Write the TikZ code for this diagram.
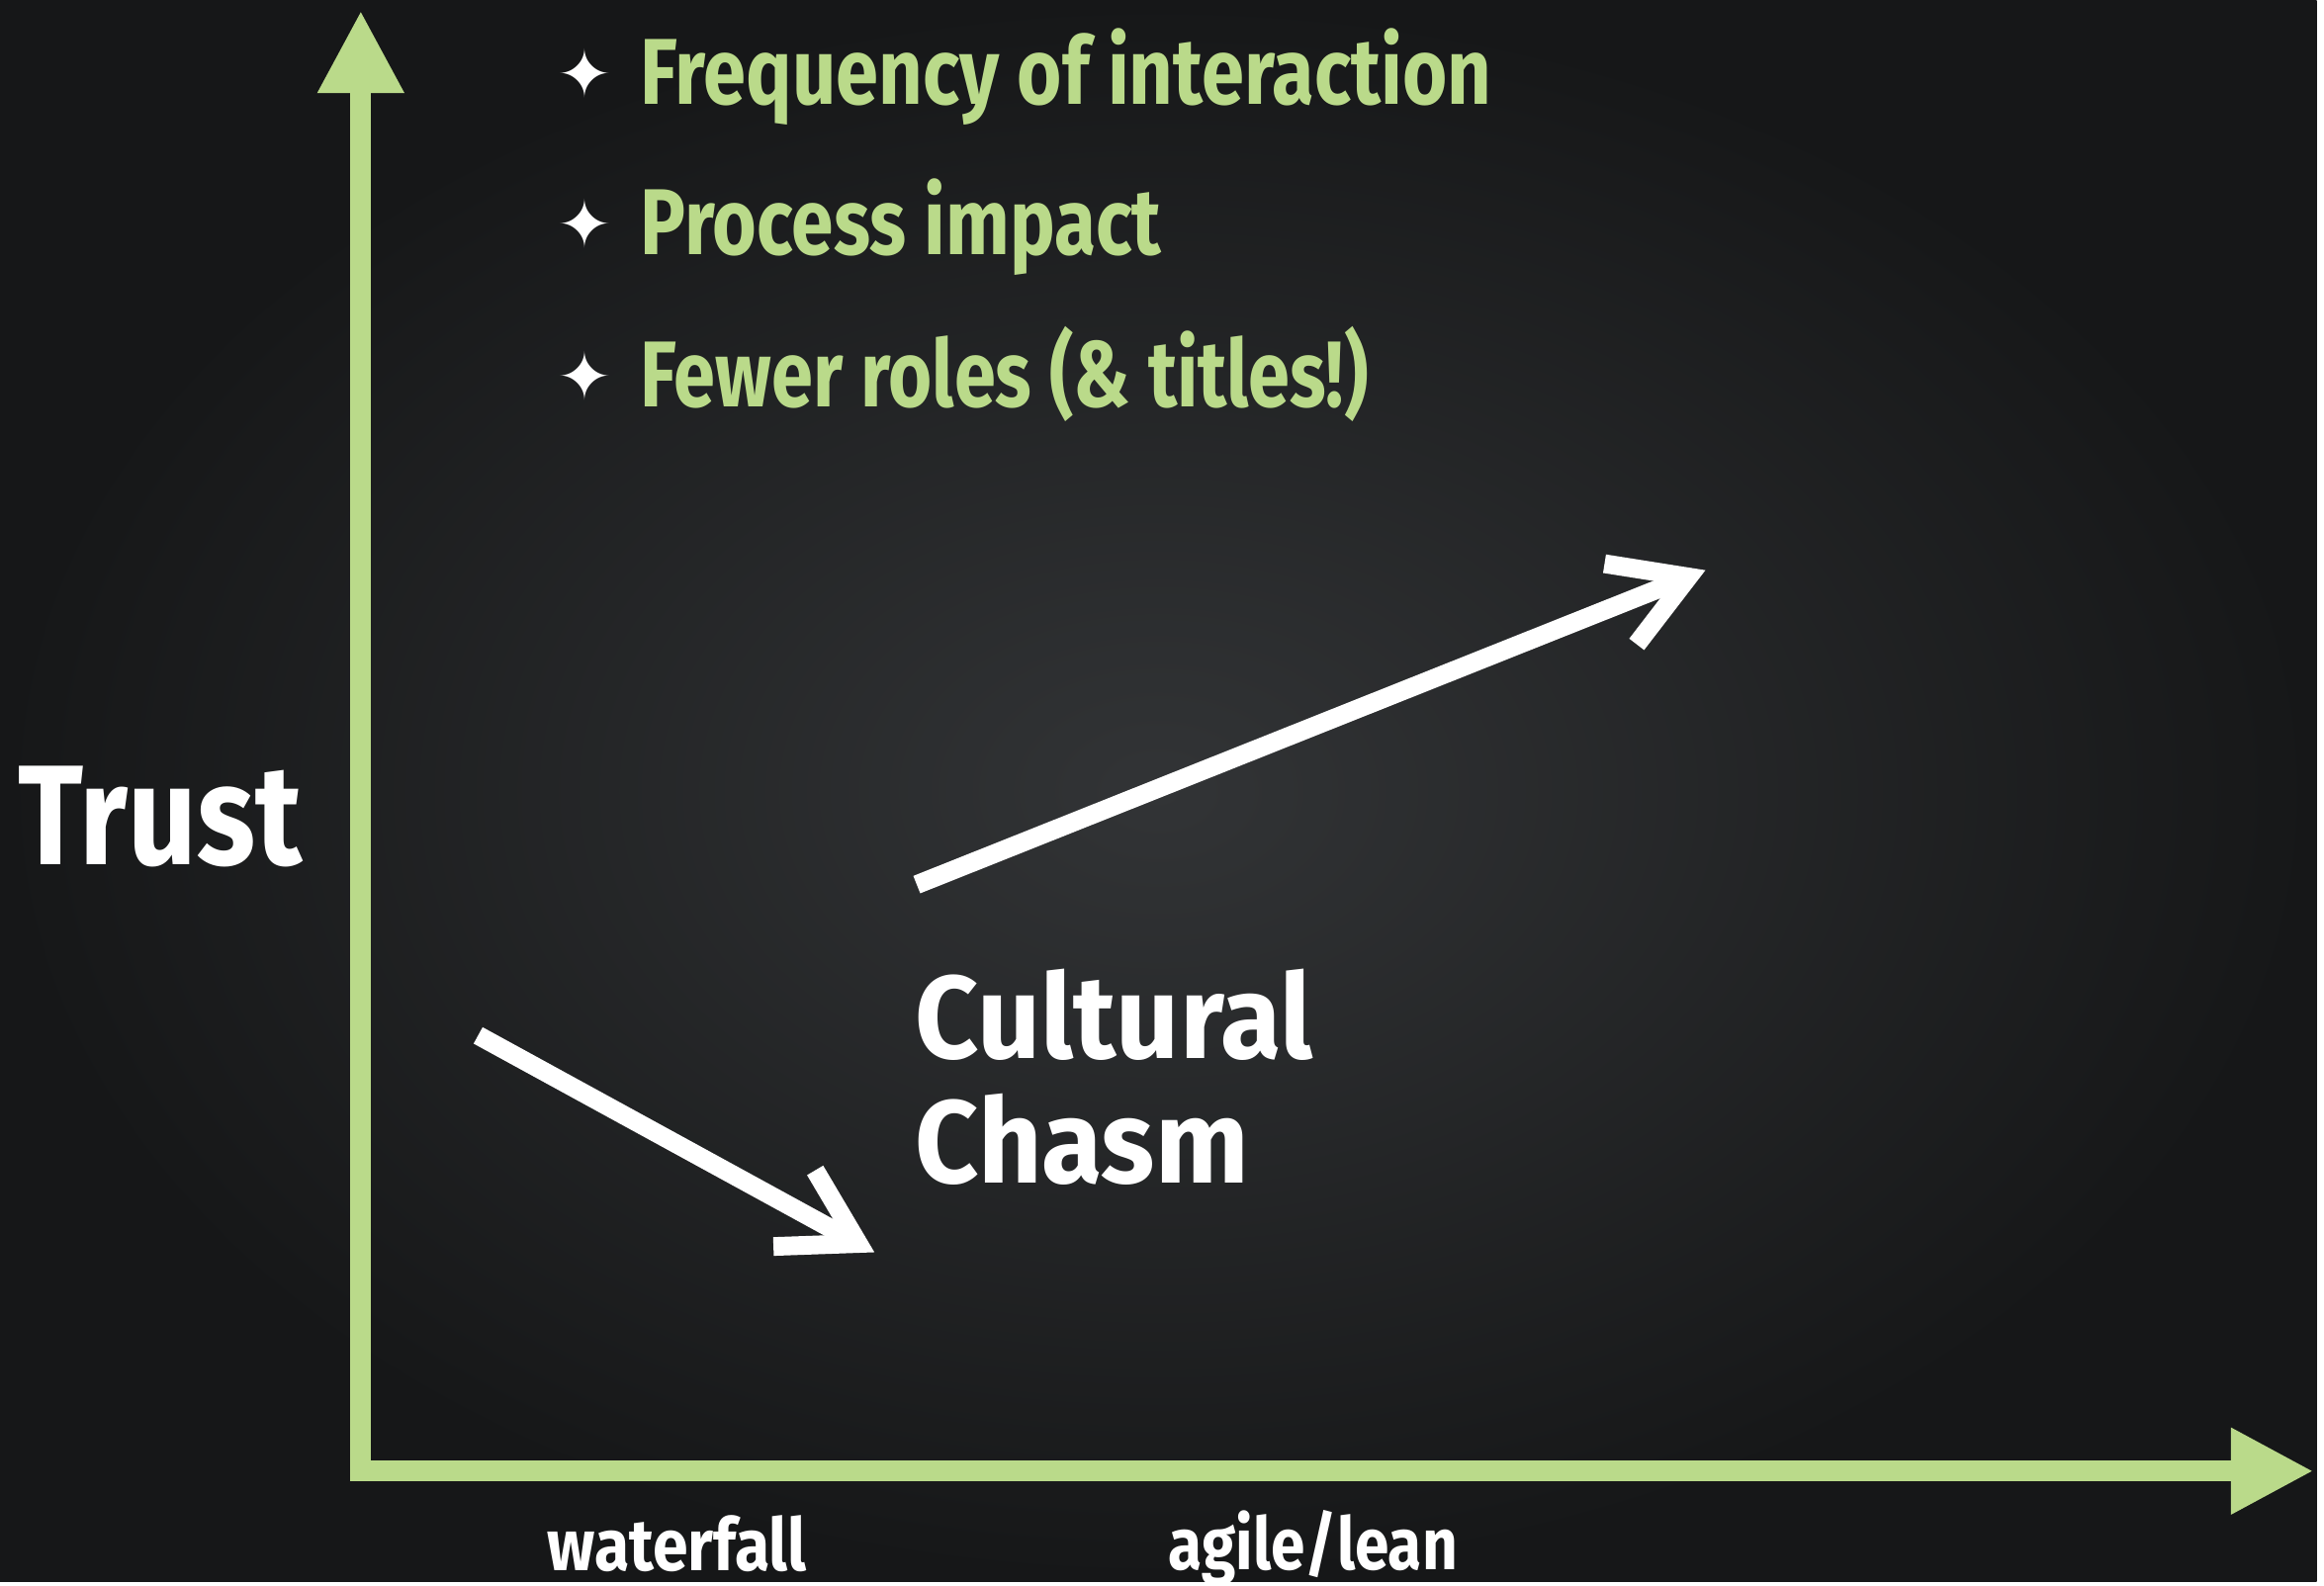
\documentclass[tikz,border=0pt]{standalone}
\usepackage{fontspec}
\setmainfont{Fira Sans}[FakeStretch=0.8]
\newfontfamily\starfont{DejaVu Sans}
\usetikzlibrary{positioning,arrows.meta}

\definecolor{chalkgreen}{RGB}{186,218,138}
\definecolor{boardlight}{RGB}{50,52,54}
\definecolor{boarddark}{RGB}{22,23,24}
\newcommand*{\sparkle}{{\color{white}\starfont\fontsize{19pt}{19pt}\selectfont\raisebox{2pt}{✦}}\hspace{8pt}}
\newcommand*{\stretchto}[1]{\addfontfeature{FakeStretch=#1}}

\tikzset{
  axis/.style={chalkgreen, line width=0.21cm, line join=miter,
    {Triangle[length=0.84cm,width=0.82cm]}-{Triangle[length=0.84cm,width=0.82cm]}},
  pointer/.style={white, line width=0.19cm,
    -{Straight Barb[length=0.74cm,width=0.88cm]}},
  point/.style={anchor=base west, inner sep=0pt, text=chalkgreen,
    font=\fontsize{27pt}{30pt}\selectfont\bfseries},
  label/.style={anchor=base west, inner sep=0pt, text=white, font=\bfseries}
}

\begin{document}
\begin{tikzpicture}[x=0.01cm, y=-0.01cm]
    \shade[inner color=boardlight, outer color=boarddark] (0,0) rectangle (2350,1604);

    % axes
    \coordinate (origin) at (366,1492);
    \coordinate (yTip) at (366,10);
    \coordinate (xTip) at (2347,1492);
    \draw[axis] (yTip) -- (origin) -- (xTip);

    % bullet list
    \node[point] (freq) at (565,105) {\sparkle\stretchto{0.82}Frequency of interaction};
    \node[point] (proc) at (565,258) {\sparkle\stretchto{0.81}Process impact};
    \node[point] (roles) at (565,412) {\sparkle Fewer roles (\& titles!)};

    \node[label, font=\fontsize{41pt}{44pt}\selectfont\bfseries\stretchto{0.85}] (trust) at (18,877) {Trust};
    \node[label, anchor=north west, align=left,
          font=\fontsize{34pt}{35.8pt}\selectfont\bfseries\stretchto{0.94}] (chasm) at (928,982) {Cultural\\Chasm};

    \node[label, font=\fontsize{21pt}{24pt}\selectfont\bfseries\stretchto{0.875}] (waterfall) at (555,1593) {waterfall};
    \node[label, font=\fontsize{21pt}{24pt}\selectfont\bfseries\stretchto{0.845}] (agile) at (1185,1592) {agile/lean};

    % into the chasm and out of it
    \coordinate (dropStart) at (485,1050);
    \coordinate (dropEnd) at (887,1270);
    \coordinate (riseStart) at (930,897);
    \coordinate (riseEnd) at (1730,578);
    \draw[pointer] (dropStart) -- (dropEnd);
    \draw[pointer] (riseStart) -- (riseEnd);
\end{tikzpicture}
\end{document}
